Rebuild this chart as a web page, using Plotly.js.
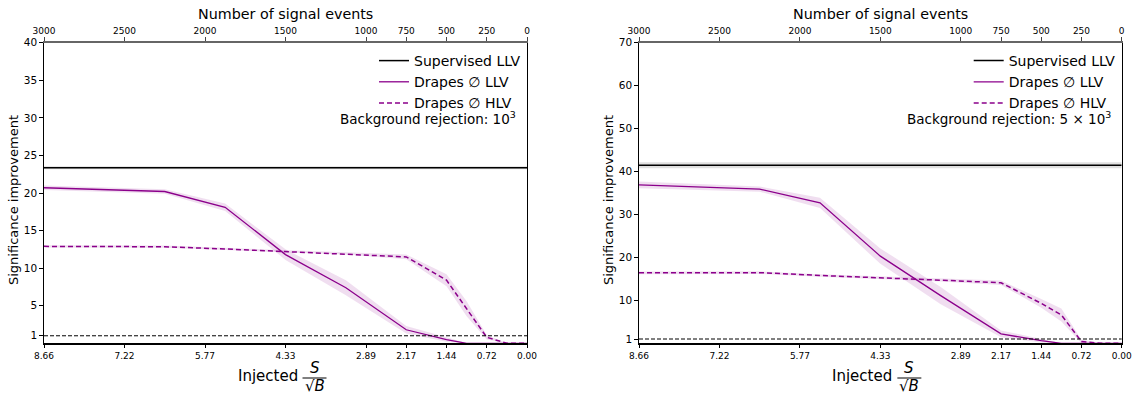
<!DOCTYPE html>
<html><head><meta charset="utf-8">
<script src="https://cdn.plot.ly/plotly-3.0.1.min.js"></script>
<style>html,body{margin:0;padding:0;background:#fff}#chart{width:1136px;height:394px}</style>
</head><body><div id="chart"></div>
<script>
// ---- data ----
const signalEvents = [3000, 2250, 1875, 1500, 1125, 750, 500, 375, 250, 125, 0];
const topTickVals = [3000, 2500, 2000, 1500, 1000, 750, 500, 250, 0];
const topTickText = ["3000", "2500", "2000", "1500", "1000", "750", "500", "250", "0"];
const bottomTickText = ["8.66", "7.22", "5.77", "4.33", "2.89", "2.17", "1.44", "0.72", "0.00"];

// left panel: background rejection 10^3
const leftLLV      = [20.7, 20.2, 18.1, 11.8, 7.4, 1.8, 0.5, 0, 0, 0, 0];
const leftLLVlow   = [20.4, 19.9, 17.6, 11.1, 6.4, 1.3, 0.2, 0, 0, 0, 0];
const leftLLVhigh  = [21.0, 20.5, 18.6, 12.5, 8.4, 2.3, 0.8, 0, 0, 0, 0];
const leftHLV      = [12.9, 12.85, 12.55, 12.2, 11.95, 11.5, 8.4, 4.6, 0.8, 0, 0];
const leftHLVlow   = [12.75, 12.7, 12.4, 12.05, 11.8, 11.2, 7.6, 3.6, 0.5, 0, 0];
const leftHLVhigh  = [13.05, 13.0, 12.7, 12.35, 12.1, 11.8, 9.2, 5.6, 1.1, 0, 0];
const leftSupervised = 23.37, leftSupLow = 23.17, leftSupHigh = 23.57;
const leftYTicks = [1, 5, 10, 15, 20, 25, 30, 35, 40];

// right panel: background rejection 5x10^3
const rightLLV      = [36.9, 35.9, 32.7, 20.3, 11.1, 2.2, 0.6, 0, 0, 0, 0];
const rightLLVlow   = [36.1, 35.3, 31.5, 18.5, 9.1, 1.4, 0.2, 0, 0, 0, 0];
const rightLLVhigh  = [37.7, 36.5, 33.9, 22.1, 13.1, 3.0, 1.0, 0, 0, 0, 0];
const rightHLV      = [16.4, 16.45, 15.8, 15.3, 14.7, 14.1, 9.3, 6.6, 0.4, 0, 0];
const rightHLVlow   = [16.1, 16.15, 15.5, 15.0, 14.4, 13.6, 8.3, 5.1, 0.0, 0, 0];
const rightHLVhigh  = [16.7, 16.75, 16.1, 15.6, 15.0, 14.6, 10.3, 8.1, 0.8, 0, 0];
const rightSupervised = 41.45, rightSupLow = 40.75, rightSupHigh = 42.15;
const rightYTicks = [1, 10, 20, 30, 40, 50, 60, 70];

const referenceLevel = 1;
const legendNames = ["Supervised LLV", "Drapes \u2205 LLV", "Drapes \u2205 HLV"];
const bgLabels = ["Background rejection: 10<sup>3</sup>", "Background rejection: 5 \u00d7 10<sup>3</sup>"];

// ---- styling ----
const W = 1136, H = 394;
const purple = "#8b008b";
const bandPurple = "rgba(139,0,139,0.13)";
const bandGray = "rgba(0,0,0,0.12)";
const font = "DejaVu Sans, sans-serif";
const px = v => v / W;
const py = v => 1 - v / H;
const plotTop = 42.7, plotBot = 343.3;
const panels = [
  {x0: 44, x1: 527, xb: "x", xt: "x2", y: "y", legend: "legend", yl: leftYTicks, ymax: 40,
   llv: leftLLV, llvL: leftLLVlow, llvH: leftLLVhigh, hlv: leftHLV, hlvL: leftHLVlow, hlvH: leftHLVhigh,
   sup: leftSupervised, supL: leftSupLow, supH: leftSupHigh, bg: bgLabels[0]},
  {x0: 639, x1: 1121.7, xb: "x3", xt: "x4", y: "y3", legend: "legend2", yl: rightYTicks, ymax: 70,
   llv: rightLLV, llvL: rightLLVlow, llvH: rightLLVhigh, hlv: rightHLV, hlvL: rightHLVlow, hlvH: rightHLVhigh,
   sup: rightSupervised, supL: rightSupLow, supH: rightSupHigh, bg: bgLabels[1]}
];

const traces = [];
const layout = {
  width: W, height: H, margin: {l: 0, r: 0, t: 0, b: 0},
  paper_bgcolor: "#fff", plot_bgcolor: "#fff",
  font: {family: font, color: "#000"},
  showlegend: true, shapes: [], annotations: []
};
const xEnds = [signalEvents[0], signalEvents[signalEvents.length - 1]];

panels.forEach((p, i) => {
  // supervised band (on top axis, same scale)
  traces.push({x: xEnds, y: [p.supL, p.supL], xaxis: p.xt, yaxis: p.y, mode: "lines",
    line: {width: 0, color: bandGray}, showlegend: false, hoverinfo: "skip", legend: p.legend});
  traces.push({x: xEnds, y: [p.supH, p.supH], xaxis: p.xt, yaxis: p.y, mode: "lines", fill: "tonexty",
    fillcolor: bandGray, line: {width: 0, color: bandGray}, showlegend: false, hoverinfo: "skip", legend: p.legend});
  // LLV band
  traces.push({x: signalEvents, y: p.llvL, xaxis: p.xb, yaxis: p.y, mode: "lines",
    line: {width: 0, color: bandPurple}, showlegend: false, hoverinfo: "skip", legend: p.legend});
  traces.push({x: signalEvents, y: p.llvH, xaxis: p.xb, yaxis: p.y, mode: "lines", fill: "tonexty",
    fillcolor: bandPurple, line: {width: 0, color: bandPurple}, showlegend: false, hoverinfo: "skip", legend: p.legend});
  // HLV band
  traces.push({x: signalEvents, y: p.hlvL, xaxis: p.xb, yaxis: p.y, mode: "lines",
    line: {width: 0, color: bandPurple}, showlegend: false, hoverinfo: "skip", legend: p.legend});
  traces.push({x: signalEvents, y: p.hlvH, xaxis: p.xb, yaxis: p.y, mode: "lines", fill: "tonexty",
    fillcolor: bandPurple, line: {width: 0, color: bandPurple}, showlegend: false, hoverinfo: "skip", legend: p.legend});
  // lines
  traces.push({x: xEnds, y: [p.sup, p.sup], xaxis: p.xt, yaxis: p.y, mode: "lines", name: legendNames[0],
    line: {color: "#000", width: 1.5}, legend: p.legend});
  traces.push({x: signalEvents, y: p.llv, xaxis: p.xb, yaxis: p.y, mode: "lines", name: legendNames[1],
    line: {color: purple, width: 1.3}, legend: p.legend});
  traces.push({x: signalEvents, y: p.hlv, xaxis: p.xb, yaxis: p.y, mode: "lines", name: legendNames[2],
    line: {color: purple, width: 1.5, dash: "5px,3px"}, legend: p.legend});

  const dom = [px(p.x0), px(p.x1)];
  const ydom = [py(plotBot), py(plotTop)];
  const xb = p.xb === "x" ? "xaxis" : "xaxis" + p.xb.slice(1);
  const xt = "xaxis" + p.xt.slice(1);
  const ya = p.y === "y" ? "yaxis" : "yaxis" + p.y.slice(1);
  const common = {range: [3000, 0], tickvals: topTickVals, ticks: "outside", ticklen: 3.5, tickwidth: 1,
    showgrid: false, zeroline: false, showline: true, fixedrange: true};
  layout[xb] = Object.assign({}, common, {domain: dom, anchor: p.y, ticktext: bottomTickText,
    tickfont: {size: 9, family: font, color: "#000"}, linecolor: "#000", linewidth: 1.5, tickcolor: "#000"});
  layout[xt] = Object.assign({}, common, {overlaying: p.xb, side: "top", anchor: p.y, ticktext: topTickText,
    tickfont: {size: 9, family: font, color: "#000"}, linecolor: "#666", linewidth: 1.8, tickcolor: "#444"});
  layout[ya] = {domain: ydom, anchor: p.xb, range: [0, p.ymax], tickvals: p.yl, ticks: "outside", ticklen: 3.5,
    tickfont: {size: 10.5, family: font, color: "#000"}, showgrid: false, zeroline: false, showline: true,
    mirror: true, linecolor: "#000", linewidth: 1.3, tickcolor: "#000", fixedrange: true};

  layout[p.legend] = {x: px(p.x1 - 1), xanchor: "right", y: py(45), yanchor: "top", bgcolor: "rgba(0,0,0,0)",
    font: {size: 14, family: font, color: "#000"}, itemwidth: 30, tracegroupgap: 0, traceorder: "normal"};

  layout.shapes.push({type: "line", xref: p.xb + " domain", yref: p.y, x0: 0, x1: 1, y0: referenceLevel, y1: referenceLevel,
    line: {color: "#000", width: 1, dash: "4px,2px"}, layer: "above"});

  const cx = (p.x0 + p.x1) / 2;
  layout.annotations.push({text: p.bg, xref: "paper", yref: "paper", x: px(p.x1 - 9), y: py(118), xanchor: "right",
    yanchor: "middle", showarrow: false, font: {size: 13.5, family: font}});
  layout.annotations.push({text: "Number of signal events", xref: "paper", yref: "paper", x: px(cx), y: py(14),
    xanchor: "center", yanchor: "middle", showarrow: false, font: {size: 14.3, family: font}});
  layout.annotations.push({text: "Significance improvement", xref: "paper", yref: "paper", x: px(p.x0 - 31), y: py(200),
    xanchor: "center", yanchor: "middle", textangle: -90, showarrow: false, font: {size: 13, family: font}});
  // x title: Injected S / sqrt(B)
  const fx = cx + 29;
  layout.annotations.push({text: "Injected", xref: "paper", yref: "paper", x: px(fx - 15), y: py(376),
    xanchor: "right", yanchor: "middle", showarrow: false, font: {size: 15, family: font}});
  layout.annotations.push({text: "<i>S</i>", xref: "paper", yref: "paper", x: px(fx), y: py(368),
    xanchor: "center", yanchor: "middle", showarrow: false, font: {size: 15, family: font}});
  layout.annotations.push({text: "\u221a<i>B</i>", xref: "paper", yref: "paper", x: px(fx), y: py(386),
    xanchor: "center", yanchor: "middle", showarrow: false, font: {size: 15, family: font}});
  layout.shapes.push({type: "line", xref: "paper", yref: "paper", x0: px(fx - 12), x1: px(fx + 12), y0: py(378), y1: py(378),
    line: {color: "#000", width: 1}});
});

Plotly.newPlot("chart", traces, layout, {staticPlot: true, displayModeBar: false});
</script>
</body></html>
